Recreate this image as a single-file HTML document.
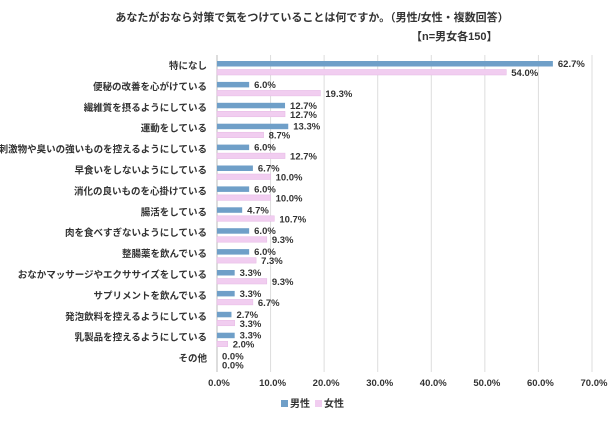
<!DOCTYPE html>
<html><head><meta charset="utf-8"><style>
body{margin:0;background:#fff;}
svg text{font-family:"Liberation Sans","Noto Sans CJK JP",sans-serif;fill:#333;font-weight:bold;}
</style></head><body>
<svg id="chart" width="615" height="421" xmlns="http://www.w3.org/2000/svg">
<text x="312" y="21" text-anchor="middle" font-size="11">あなたがおなら対策で気をつけていることは何ですか。（男性/女性・複数回答）</text>
<text x="411" y="40" font-size="11">【n=男女各150】</text>
<g id="grid"></g><g id="bars"></g><g id="labels"></g>
<g>
<rect x="281" y="400" width="7" height="7" fill="#6f9fc8"/>
<text x="290" y="407" font-size="10">男性</text>
<rect x="315" y="400" width="7" height="7" fill="#f1cdf0"/>
<text x="324" y="407" font-size="10">女性</text>
</g>
</svg>
<script>
const categories=["特になし","便秘の改善を心がけている","繊維質を摂るようにしている","運動をしている","刺激物や臭いの強いものを控えるようにしている","早食いをしないようにしている","消化の良いものを心掛けている","腸活をしている","肉を食べすぎないようにしている","整腸薬を飲んでいる","おなかマッサージやエクササイズをしている","サプリメントを飲んでいる","発泡飲料を控えるようにしている","乳製品を控えるようにしている","その他"];
const maleValues=[62.7,6.0,12.7,13.3,6.0,6.7,6.0,4.7,6.0,6.0,3.3,3.3,2.7,3.3,0.0];
const femaleValues=[54.0,19.3,12.7,8.7,12.7,10.0,10.0,10.7,9.3,7.3,9.3,6.7,3.3,2.0,0.0];
const ticks=[0,10,20,30,40,50,60,70];
const NS="http://www.w3.org/2000/svg";
const x=v=>217+v*5.357;
const rowY=i=>61+i*20.9;
function mk(tag,attrs,parent,txt){const e=document.createElementNS(NS,tag);for(const k in attrs)e.setAttribute(k,attrs[k]);if(txt!==undefined)e.textContent=txt;document.getElementById(parent).appendChild(e);return e;}
ticks.forEach(t=>{
 const l=mk('line',{x1:x(t),x2:x(t),y1:55,y2:372,stroke:t===0?'#bbb':'#ddd','stroke-width':1},'grid');
 
 
 const tx=mk('text',{x:x(t)+2,y:386,'text-anchor':'middle','font-size':9.5},'grid',t.toFixed(1)+'%');
 
 
});
categories.forEach((c,i)=>{
 const y=rowY(i);
 const cl=mk('text',{x:207,y:y+8,'text-anchor':'end','font-size':9.5},'labels',c);
 
 
 const m=mk('rect',{x:x(0),y:y,width:x(maleValues[i])-x(0),height:5.5,fill:'#6f9fc8'},'bars');
 
 
 const f=mk('rect',{x:x(0),y:y+8.5,width:x(femaleValues[i])-x(0),height:5.5,fill:'#f1cdf0',stroke:'#e5b8e4','stroke-width':0.5},'bars');
 
 
 const ml=mk('text',{x:x(maleValues[i])+5,y:y+6,'font-size':9.5},'labels',maleValues[i].toFixed(1)+'%');
 
 
 const fl=mk('text',{x:x(femaleValues[i])+5,y:y+15,'font-size':9.5},'labels',femaleValues[i].toFixed(1)+'%');
 
 
});
</script>
</body></html>
